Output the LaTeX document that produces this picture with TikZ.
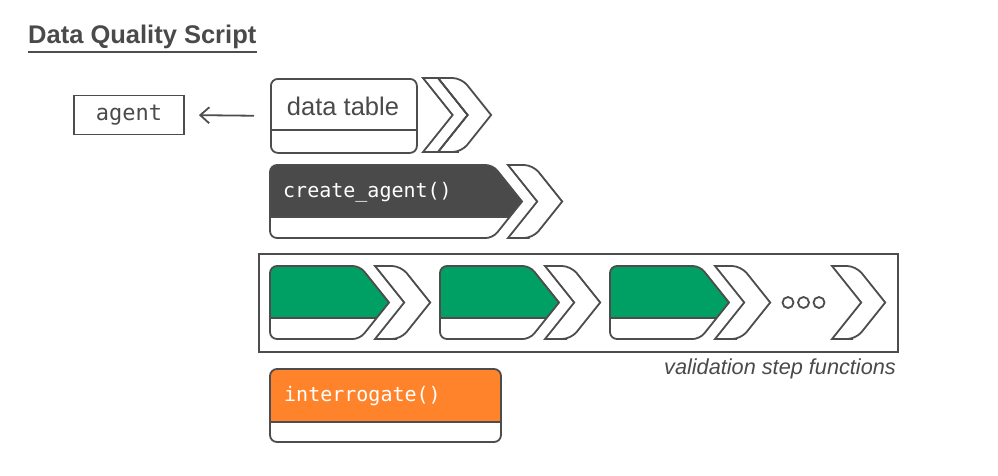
\documentclass[tikz,border=0pt]{standalone}
\usepackage{fontspec}
\setmainfont{Liberation Sans}
\setmonofont{DejaVu Sans Mono}
\usetikzlibrary{arrows.meta}
\definecolor{ink}{HTML}{4D4D4D}
\definecolor{txt}{HTML}{4A4A4A}
\definecolor{dk}{HTML}{4A4A4A}
\definecolor{grn}{HTML}{00A064}
\definecolor{org}{HTML}{FF832B}
% pentagon path: L T B X  (sharp tip, rounded other corners)
\newcommand\pentpath[4]{(#1,{(#2+#3)/2}) [rounded corners=7pt] -- (#1,#2) -- ({#4-0.4*(#3-#2)},#2) -- ({#4-0.2*(#3-#2)},{0.75*#2+0.25*#3}) [sharp corners] -- (#4,{(#2+#3)/2}) -- ({#4-0.2*(#3-#2)},{0.25*#2+0.75*#3}) [rounded corners=7pt] -- ({#4-0.4*(#3-#2)},#3) -- (#1,#3) -- cycle}
% pentagon with coloured top: L T B X D colour
\newcommand\pentbox[6]{%
  \begin{scope}
    \clip \pentpath{#1}{#2}{#3}{#4};
    \fill[#6] (#1,#2) rectangle (#4,#5);
    \draw[outl] (#1,#5) -- (#4,#5);
  \end{scope}
  \draw[outl] \pentpath{#1}{#2}{#3}{#4};
}
% chevron: N T B w
\newcommand\chev[4]{%
  \draw[outl] (#1,#2) -- ({#1+0.5*#4},#2) [rounded corners=9pt] -- ({#1+#4},#2) -- ({#1+#4+0.2*(#3-#2)},{0.75*#2+0.25*#3}) [sharp corners] -- ({#1+#4+0.4*(#3-#2)},{(#2+#3)/2}) -- ({#1+#4+0.2*(#3-#2)},{0.25*#2+0.75*#3}) [rounded corners=9pt] -- ({#1+#4},#3) -- ({#1+0.5*#4},#3) [sharp corners] -- (#1,#3) -- ({#1+0.4*(#3-#2)},{(#2+#3)/2}) -- cycle;
}
\tikzset{
  outl/.style={draw=ink, line width=1.8pt},
  monolabel/.style={anchor=base west, inner sep=0pt, text=white, font=\ttfamily\fontsize{20}{24}\selectfont},
}
\begin{document}
\begin{tikzpicture}[x=1pt, y=-1pt]
\useasboundingbox (0,0) rectangle (998,475);
\fill[white] (0,0) rectangle (998,475);

% title
\node[anchor=base west, inner sep=0pt, text=txt, font=\bfseries\fontsize{25.5}{30}\selectfont] (title) at (28,43.3) {Data Quality Script};
\draw[ink, line width=2pt] ([yshift=-9pt]title.base west) -- ([yshift=-9pt]title.base east);

% agent
\node[outl, minimum width=110pt, minimum height=39pt, inner sep=0pt, text=txt, font=\ttfamily\fontsize{22}{26}\selectfont] (agent) at (129,115) {agent};

% data table
\node[outl, rounded corners=7pt, minimum width=146pt, minimum height=74pt, anchor=north west, inner sep=0pt] (dt) at (270,78) {};
\draw[outl] (dt.west |- 0,130) -- (dt.east |- 0,130);
\node[anchor=base, inner sep=0pt, text=txt, font=\fontsize{25.5}{30}\selectfont] (dtlabel) at (343,115.7) {data table};
\draw[outl, sharp corners] (423,78) -- (438,78) -- (467.6,115) -- (438,152) -- (423,152) -- (452.6,115) -- cycle;
\chev{438}{78}{152}{23.5}
\draw[outl, -{Straight Barb[length=9pt,width=16pt,line width=1.8pt]}, shorten <=16pt, shorten >=14pt] (dt.west) -- (agent.east);

% create_agent
\pentbox{270}{165}{238}{522}{217}{dk}
\node[monolabel] (ca) at (283,197.7) {create\_agent()};
\chev{508}{165}{238}{25}

% validation steps
\node[outl, line width=2pt, minimum width=639pt, minimum height=98pt, anchor=north west, inner sep=0pt] (vbox) at (258,253) {};
\pentbox{270}{266}{339}{389}{318}{grn}
\chev{375}{266}{339}{26}
\pentbox{440}{266}{339}{559}{318}{grn}
\chev{545}{266}{339}{26}
\pentbox{610}{266}{339}{729}{318}{grn}
\chev{715}{266}{339}{26}
\draw[outl] (788,302.5) circle (5.5) (803.5,302.5) circle (5.5) (819,302.5) circle (5.5);
\chev{832}{266}{339}{24}
\node[anchor=base east, inner sep=0pt, text=txt, font=\itshape\fontsize{21.7}{26}\selectfont] (vlabel) at (896,374) {validation step functions};

% interrogate
\begin{scope}
  \clip[rounded corners=7pt] (270,369) rectangle (501,442);
  \fill[org] (270,369) rectangle (501,422);
  \draw[outl] (270,422) -- (501,422);
\end{scope}
\draw[outl, rounded corners=7pt] (270,369) rectangle (501,442);
\node[monolabel] (intg) at (284,401) {interrogate()};
\end{tikzpicture}
\end{document}
